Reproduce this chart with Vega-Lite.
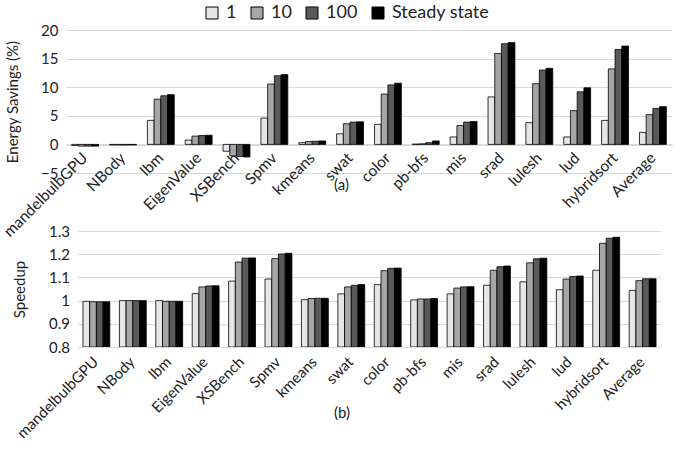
{
  "$schema": "https://vega.github.io/schema/vega-lite/v6.json",
  "padding": {"left": 0, "top": 4, "right": 5, "bottom": 5},
  "config": {
    "font": "Lato",
    "view": {"stroke": null},
    "axis": {"labelFont": "Lato", "titleFont": "Lato", "labelColor": "#222", "titleColor": "#222", "titleFontWeight": "normal", "gridColor": "#d9d9d9", "domainColor": "#d9d9d9", "ticks": false},
    "legend": {"labelFont": "Lato", "labelFontSize": 18, "labelColor": "#222"}
  },
  "datasets": {
    "energy": [
      {"b": "mandelbulbGPU", "k": "1", "v": -0.2}, {"b": "mandelbulbGPU", "k": "10", "v": -0.3}, {"b": "mandelbulbGPU", "k": "100", "v": -0.3}, {"b": "mandelbulbGPU", "k": "Steady state", "v": -0.3},
      {"b": "NBody", "k": "1", "v": -0.1}, {"b": "NBody", "k": "10", "v": -0.1}, {"b": "NBody", "k": "100", "v": -0.1}, {"b": "NBody", "k": "Steady state", "v": -0.1},
      {"b": "lbm", "k": "1", "v": 4.2}, {"b": "lbm", "k": "10", "v": 7.9}, {"b": "lbm", "k": "100", "v": 8.5}, {"b": "lbm", "k": "Steady state", "v": 8.7},
      {"b": "EigenValue", "k": "1", "v": 0.75}, {"b": "EigenValue", "k": "10", "v": 1.45}, {"b": "EigenValue", "k": "100", "v": 1.55}, {"b": "EigenValue", "k": "Steady state", "v": 1.6},
      {"b": "XSBench", "k": "1", "v": -1.2}, {"b": "XSBench", "k": "10", "v": -2.0}, {"b": "XSBench", "k": "100", "v": -2.1}, {"b": "XSBench", "k": "Steady state", "v": -2.2},
      {"b": "Spmv", "k": "1", "v": 4.6}, {"b": "Spmv", "k": "10", "v": 10.55}, {"b": "Spmv", "k": "100", "v": 12.0}, {"b": "Spmv", "k": "Steady state", "v": 12.2},
      {"b": "kmeans", "k": "1", "v": 0.3}, {"b": "kmeans", "k": "10", "v": 0.5}, {"b": "kmeans", "k": "100", "v": 0.55}, {"b": "kmeans", "k": "Steady state", "v": 0.6},
      {"b": "swat", "k": "1", "v": 1.85}, {"b": "swat", "k": "10", "v": 3.6}, {"b": "swat", "k": "100", "v": 3.9}, {"b": "swat", "k": "Steady state", "v": 3.95},
      {"b": "color", "k": "1", "v": 3.5}, {"b": "color", "k": "10", "v": 8.8}, {"b": "color", "k": "100", "v": 10.4}, {"b": "color", "k": "Steady state", "v": 10.7},
      {"b": "pb-bfs", "k": "1", "v": 0.05}, {"b": "pb-bfs", "k": "10", "v": 0.1}, {"b": "pb-bfs", "k": "100", "v": 0.3}, {"b": "pb-bfs", "k": "Steady state", "v": 0.6},
      {"b": "mis", "k": "1", "v": 1.3}, {"b": "mis", "k": "10", "v": 3.3}, {"b": "mis", "k": "100", "v": 3.9}, {"b": "mis", "k": "Steady state", "v": 4.0},
      {"b": "srad", "k": "1", "v": 8.3}, {"b": "srad", "k": "10", "v": 15.9}, {"b": "srad", "k": "100", "v": 17.6}, {"b": "srad", "k": "Steady state", "v": 17.8},
      {"b": "lulesh", "k": "1", "v": 3.8}, {"b": "lulesh", "k": "10", "v": 10.6}, {"b": "lulesh", "k": "100", "v": 13.0}, {"b": "lulesh", "k": "Steady state", "v": 13.3},
      {"b": "lud", "k": "1", "v": 1.3}, {"b": "lud", "k": "10", "v": 5.9}, {"b": "lud", "k": "100", "v": 9.2}, {"b": "lud", "k": "Steady state", "v": 9.9},
      {"b": "hybridsort", "k": "1", "v": 4.2}, {"b": "hybridsort", "k": "10", "v": 13.2}, {"b": "hybridsort", "k": "100", "v": 16.6}, {"b": "hybridsort", "k": "Steady state", "v": 17.2},
      {"b": "Average", "k": "1", "v": 2.1}, {"b": "Average", "k": "10", "v": 5.2}, {"b": "Average", "k": "100", "v": 6.3}, {"b": "Average", "k": "Steady state", "v": 6.6}
    ],
    "speedup": [
      {"b": "mandelbulbGPU", "k": "1", "v": 0.997}, {"b": "mandelbulbGPU", "k": "10", "v": 0.995}, {"b": "mandelbulbGPU", "k": "100", "v": 0.995}, {"b": "mandelbulbGPU", "k": "Steady state", "v": 0.995},
      {"b": "NBody", "k": "1", "v": 1.0}, {"b": "NBody", "k": "10", "v": 1.0}, {"b": "NBody", "k": "100", "v": 1.0}, {"b": "NBody", "k": "Steady state", "v": 1.0},
      {"b": "lbm", "k": "1", "v": 1.0}, {"b": "lbm", "k": "10", "v": 0.997}, {"b": "lbm", "k": "100", "v": 0.997}, {"b": "lbm", "k": "Steady state", "v": 0.997},
      {"b": "EigenValue", "k": "1", "v": 1.03}, {"b": "EigenValue", "k": "10", "v": 1.059}, {"b": "EigenValue", "k": "100", "v": 1.063}, {"b": "EigenValue", "k": "Steady state", "v": 1.064},
      {"b": "XSBench", "k": "1", "v": 1.084}, {"b": "XSBench", "k": "10", "v": 1.166}, {"b": "XSBench", "k": "100", "v": 1.183}, {"b": "XSBench", "k": "Steady state", "v": 1.184},
      {"b": "Spmv", "k": "1", "v": 1.093}, {"b": "Spmv", "k": "10", "v": 1.181}, {"b": "Spmv", "k": "100", "v": 1.201}, {"b": "Spmv", "k": "Steady state", "v": 1.204},
      {"b": "kmeans", "k": "1", "v": 1.004}, {"b": "kmeans", "k": "10", "v": 1.009}, {"b": "kmeans", "k": "100", "v": 1.01}, {"b": "kmeans", "k": "Steady state", "v": 1.01},
      {"b": "swat", "k": "1", "v": 1.029}, {"b": "swat", "k": "10", "v": 1.059}, {"b": "swat", "k": "100", "v": 1.066}, {"b": "swat", "k": "Steady state", "v": 1.069},
      {"b": "color", "k": "1", "v": 1.069}, {"b": "color", "k": "10", "v": 1.129}, {"b": "color", "k": "100", "v": 1.139}, {"b": "color", "k": "Steady state", "v": 1.14},
      {"b": "pb-bfs", "k": "1", "v": 1.003}, {"b": "pb-bfs", "k": "10", "v": 1.007}, {"b": "pb-bfs", "k": "100", "v": 1.007}, {"b": "pb-bfs", "k": "Steady state", "v": 1.009},
      {"b": "mis", "k": "1", "v": 1.029}, {"b": "mis", "k": "10", "v": 1.054}, {"b": "mis", "k": "100", "v": 1.059}, {"b": "mis", "k": "Steady state", "v": 1.06},
      {"b": "srad", "k": "1", "v": 1.066}, {"b": "srad", "k": "10", "v": 1.131}, {"b": "srad", "k": "100", "v": 1.146}, {"b": "srad", "k": "Steady state", "v": 1.149},
      {"b": "lulesh", "k": "1", "v": 1.081}, {"b": "lulesh", "k": "10", "v": 1.163}, {"b": "lulesh", "k": "100", "v": 1.18}, {"b": "lulesh", "k": "Steady state", "v": 1.183},
      {"b": "lud", "k": "1", "v": 1.047}, {"b": "lud", "k": "10", "v": 1.093}, {"b": "lud", "k": "100", "v": 1.104}, {"b": "lud", "k": "Steady state", "v": 1.106},
      {"b": "hybridsort", "k": "1", "v": 1.131}, {"b": "hybridsort", "k": "10", "v": 1.247}, {"b": "hybridsort", "k": "100", "v": 1.269}, {"b": "hybridsort", "k": "Steady state", "v": 1.273},
      {"b": "Average", "k": "1", "v": 1.044}, {"b": "Average", "k": "10", "v": 1.086}, {"b": "Average", "k": "100", "v": 1.094}, {"b": "Average", "k": "Steady state", "v": 1.094}
    ]
  },
  "bounds": "flush",
  "center": true,
  "spacing": 58,
  "resolve": {"scale": {"color": "shared"}},
  "vconcat": [
    {
      "width": 606,
      "height": 143,
      "data": {"name": "energy"},
      "mark": {"type": "bar", "stroke": "black", "strokeWidth": 0.8},
      "encoding": {
        "x": {"field": "b", "type": "nominal", "sort": null,
              "scale": {"paddingInner": 0.29, "paddingOuter": 0.15},
              "axis": {"title": "(a)", "titleFontSize": 15, "titleY": 39, "titleX": 275, "titleBaseline": "middle", "labelAngle": -45, "labelAlign": "right", "labelBaseline": "middle", "labelFontSize": 15.5, "labelPadding": 10, "offset": -28, "domainColor": "#d9d9d9"}},
        "xOffset": {"field": "k", "type": "nominal", "sort": ["1", "10", "100", "Steady state"]},
        "y": {"field": "v", "type": "quantitative",
              "scale": {"domain": [-5, 20], "nice": false},
              "axis": {"title": "Energy Savings (%)", "titleFontSize": 15, "titleX": -54, "titleBaseline": "middle", "values": [-5, 0, 5, 10, 15, 20], "labelFontSize": 15, "domain": false, "labelPadding": 8}},
        "color": {"field": "k", "type": "nominal",
                  "scale": {"domain": ["1", "10", "100", "Steady state"], "range": ["#e6e6e6", "#a6a6a6", "#5a5a5a", "#000000"]},
                  "legend": {"title": null, "orient": "none", "direction": "horizontal", "columns": 4, "legendX": 137, "legendY": -26, "symbolType": "square", "symbolSize": 144, "symbolStrokeColor": "black", "symbolStrokeWidth": 1, "columnPadding": 11, "labelOffset": 5}}
      }
    },
    {
      "width": 583,
      "height": 116,
      "data": {"name": "speedup"},
      "mark": {"type": "bar", "stroke": "black", "strokeWidth": 0.8, "clip": true},
      "encoding": {
        "x": {"field": "b", "type": "nominal", "sort": null,
              "scale": {"paddingInner": 0.29, "paddingOuter": 0.15},
              "axis": {"title": "(b)", "titleFontSize": 15, "titleY": 65, "titleX": 264, "titleBaseline": "middle", "labelAngle": -45, "labelAlign": "right", "labelBaseline": "middle", "labelFontSize": 15, "labelPadding": 12, "domainColor": "#d9d9d9"}},
        "xOffset": {"field": "k", "type": "nominal", "sort": ["1", "10", "100", "Steady state"]},
        "y": {"field": "v", "type": "quantitative",
              "scale": {"domain": [0.8, 1.3], "nice": false, "zero": false},
              "axis": {"title": "Speedup", "titleFontSize": 15, "titleX": -58, "titleBaseline": "middle", "values": [0.8, 0.9, 1.0, 1.1, 1.2, 1.3], "format": ".1~f", "labelFontSize": 15, "domain": false, "labelPadding": 8}},
        "y2": {"datum": 0.8},
        "color": {"field": "k", "type": "nominal",
                  "legend": {"title": null, "orient": "none", "direction": "horizontal", "columns": 4, "legendX": 137, "legendY": -26, "symbolType": "square", "symbolSize": 144, "symbolStrokeColor": "black", "symbolStrokeWidth": 1, "columnPadding": 11, "labelOffset": 5}}
      }
    }
  ]
}
